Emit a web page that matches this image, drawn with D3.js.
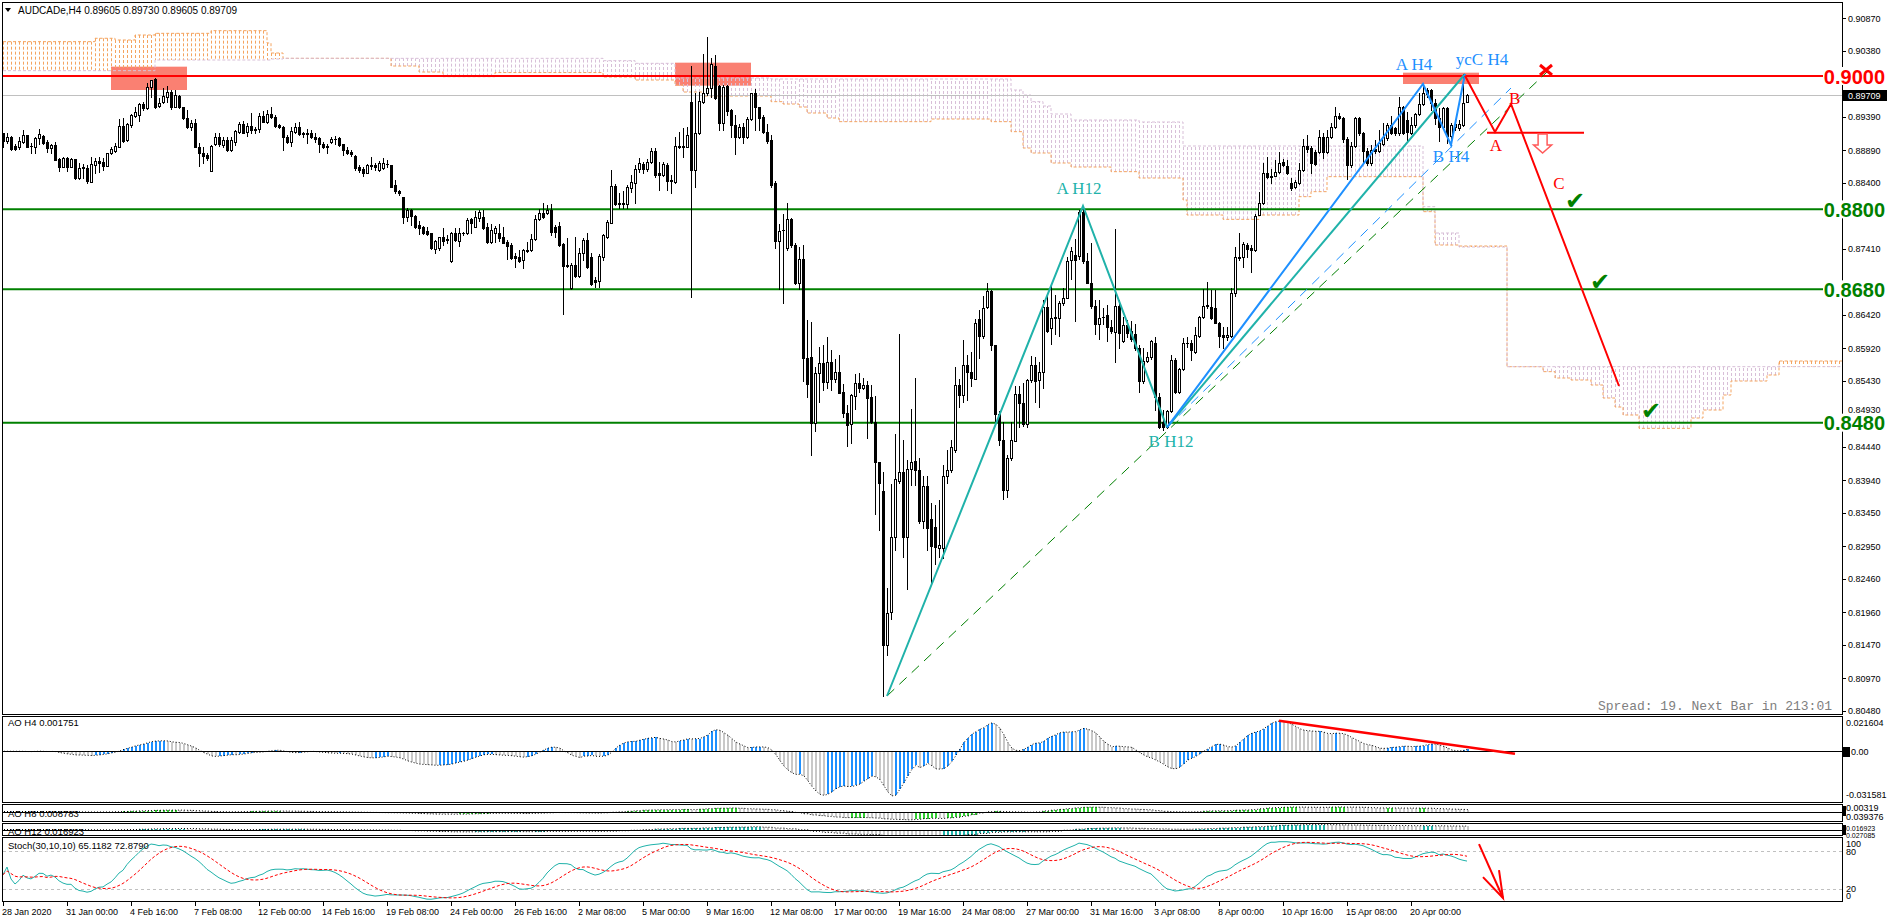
<!DOCTYPE html>
<html>
<head>
<meta charset="utf-8">
<script src="https://cdn.jsdelivr.net/npm/d3@7"></script>
<style>
body { margin: 0; background: #fff; }
svg { display: block; }
text { font-family: "Liberation Sans", Arial, sans-serif; }
</style>
</head>
<body>
<svg id="chart" width="1888" height="923"></svg>
<script>
// ---- AUDCAD H4 candles, prices in points (1 point = 0.00001) ----
const opens = [
89140,89030,89080,88950,88940,89015,89115,88950,88940,89065,
89100,89010,88925,88965,88755,88640,88765,88640,88750,88475,
88640,88615,88415,88665,88730,88705,88655,88840,88880,88940,
89250,89040,89265,89405,89415,89580,89515,89830,89950,89550,
89615,89690,89765,89540,89700,89530,89365,89240,89290,88940,
88850,88815,88580,88980,89080,88965,89040,88890,89015,89165,
89280,89165,89250,89205,89200,89400,89315,89430,89390,89260,
89240,89080,89015,89165,89230,89150,89150,89140,89080,89065,
88975,88945,89015,89055,89065,88975,88890,88865,88800,88630,
88600,88550,88655,88665,88590,88615,88680,88665,88365,88275,
88190,87890,87990,87900,87765,87740,87675,87640,87405,87415,
87580,87540,87230,87640,87530,87640,87650,87850,87740,87865,
87880,87740,87515,87650,87640,87590,87515,87465,87300,87290,
87240,87390,87390,87550,87850,87950,87940,87990,87740,87750,
87480,87165,86815,87165,87000,87350,87540,87290,86940,86930,
87290,87590,87800,88350,88090,88080,88080,88315,88400,88600,
88680,88600,88715,88880,88540,88515,88665,88440,88415,88950,
88950,88940,89615,88590,89140,89615,89750,89815,90150,89850,
89290,89850,89490,89265,89080,89230,89080,89350,89740,89530,
89380,89165,89040,88390,87520,87690,87416,87855,87468,86899,
87261,85772,85787,84790,85545,85700,85410,85710,85451,85565,
85255,84945,84779,85203,85390,85322,85358,85183,84805,84211,
83771,81470,81962,83084,83927,84066,83084,84107,84221,84097,
83332,83849,83358,83239,82923,82923,83994,84097,84392,85364,
85219,85658,85565,85462,86356,86098,86537,86770,85958,84934,
84547,83797,84273,84531,85234,85090,84779,85441,85658,85441,
85555,86537,86227,86372,86372,86589,86667,87235,87313,87302,
87959,87220,86899,86547,86279,86382,86408,86237,86165,86547,
86020,86268,86175,86124,85927,85426,85720,85787,86000,85180,
84815,84740,84980,85740,85265,85600,85990,86000,85865,86100,
86390,86550,86530,86515,86290,86115,86080,86100,86740,87290,
87280,87465,87415,87390,87915,88090,88540,88500,88500,88565,
88715,88650,88400,88340,88390,88590,88950,88915,88865,88865,
89080,88865,89080,89230,89400,89365,89050,88665,88950,89365,
89150,88880,88690,88900,88880,88980,89065,89265,89215,89140,
89540,89340,89150,89265,89430,89580,89790,89790,89600,89365,
89230,89515,89100,89240,89215,89265,89605
];
const highs = [
89150,89140,89100,88975,89080,89190,89115,88990,89080,89205,
89115,89040,88980,89010,88765,88780,88790,88765,88750,88690,
88675,88665,88780,88765,88780,88765,88840,88940,88990,89355,
89365,89300,89430,89530,89600,89615,89890,89940,89965,89665,
89815,89850,89790,89790,89715,89540,89490,89340,89350,88990,
88930,88840,88965,89140,89140,89080,89080,89090,89190,89315,
89330,89290,89450,89230,89440,89475,89490,89530,89415,89280,
89250,89115,89240,89290,89310,89165,89200,89190,89150,89090,
89015,88980,89080,89100,89080,88980,88930,88890,88815,88665,
88640,88675,88780,88690,88720,88765,88740,88665,88440,88290,
88190,88015,88000,87915,87830,87750,87740,87650,87540,87590,
87715,87615,87665,87715,87715,87660,87865,87865,87980,87990,
87990,87800,87780,87750,87780,87740,87540,87490,87340,87390,
87400,87515,87630,87915,88000,88100,88065,88080,87765,87815,
87490,87565,87190,87590,87415,87565,87650,87350,86990,87330,
87630,87840,88590,88380,88250,88280,88365,88515,88665,88765,
88715,88750,88915,88915,88715,88715,88690,88515,89080,89165,
89215,89240,90150,89740,89765,90330,90590,90265,90315,89865,
89865,89865,89500,89415,89280,89290,89380,89750,89800,89540,
89415,89280,89115,88420,87780,87933,88098,87871,87494,87442,
87468,86341,86305,85632,85942,85958,86082,85891,85762,85813,
85374,85064,85234,85529,85545,85477,85426,85358,85203,84211,
84056,82324,83875,84624,86124,84547,84237,85012,85477,84273,
84004,84004,83590,83564,83642,84159,84392,84547,85632,85462,
86046,85813,85865,86356,86496,86703,86889,86796,85968,84976,
84805,84314,84805,85348,85348,85400,85462,85803,85787,85710,
86641,86718,86858,86718,86630,86821,87287,87442,87561,87990,
88047,87338,87494,86640,86640,86527,86563,86341,87700,86640,
86382,86341,86330,86279,85968,85917,85865,86046,86090,85240,
84990,84990,85815,85765,85615,86065,86090,86040,86240,86400,
86800,86915,86790,86790,86315,86240,86240,86815,87440,87640,
87515,87500,87465,87930,88265,88690,88790,88600,88740,88865,
88750,88740,88465,88440,88690,89050,89115,88950,88890,89190,
89150,89190,89290,89540,89450,89380,89080,89015,89380,89380,
89165,88915,88965,89040,89190,89290,89290,89400,89240,89680,
89550,89465,89390,89450,89740,89880,89815,89800,89650,89515,
89540,89530,89290,89315,89340,90030,89730
];
const lows = [
88940,88990,88890,88890,88900,88990,88930,88850,88850,88980,
88980,88860,88850,88740,88580,88630,88580,88630,88450,88460,
88465,88400,88415,88540,88565,88590,88650,88830,88865,88930,
89015,89030,89240,89390,89330,89490,89500,89690,89515,89540,
89590,89615,89505,89530,89515,89350,89215,89190,88930,88655,
88690,88740,88580,88965,88950,88940,88880,88880,88965,89140,
89140,89100,89140,89140,89165,89310,89300,89365,89230,89215,
88890,89000,88955,89140,89115,89090,89000,89065,89015,88865,
88915,88850,88990,88975,88950,88815,88830,88800,88590,88565,
88500,88540,88600,88590,88580,88600,88640,88330,88250,88215,
87800,87830,87765,87715,87630,87630,87615,87400,87340,87390,
87465,87490,87215,87530,87450,87620,87630,87640,87730,87830,
87700,87500,87490,87515,87530,87490,87250,87250,87140,87215,
87115,87365,87380,87540,87840,87865,87930,87615,87590,87450,
86430,87140,86800,86990,86990,87240,87115,86865,86840,86840,
87240,87565,87790,88065,88015,88015,88015,88265,88100,88565,
88550,88580,88700,88490,88290,88500,88290,88250,88400,88915,
88790,88930,86690,88340,89130,89600,89715,89690,89650,89190,
89190,89415,89090,88830,89065,89000,89065,89340,89190,89190,
89150,88990,88340,87415,86806,86589,87390,87442,86873,86806,
85426,85183,84314,84676,85115,85296,85322,85296,85410,85245,
84883,84443,84495,85012,85255,85307,84573,84790,83435,83187,
80695,81315,81858,82892,83900,82789,82298,83859,83859,83290,
83218,82892,82401,82686,82789,82763,83900,84066,84366,85038,
85115,85142,85348,85451,85772,86072,86527,85891,84831,84469,
83652,83683,84237,84521,84728,84753,84738,85410,85115,85038,
85322,86165,85979,86124,86098,86563,86667,86951,86330,87261,
87199,86899,86527,86124,86062,86279,86020,86149,85710,85917,
86010,86082,86020,85891,85255,85400,85710,85762,84990,84715,
84690,84715,84965,85240,85240,85590,85940,85740,85840,86090,
86365,86515,86350,86290,85930,85915,86040,86090,86700,87240,
87140,87290,87065,87380,87915,88080,88465,88400,88500,88540,
88650,88530,88290,88315,88380,88580,88865,88540,88665,88850,
88765,88840,89065,89215,89350,89015,88450,88640,88930,89115,
88690,88665,88665,88850,88865,88965,89040,89130,89115,89115,
89130,89040,89130,89240,89415,89565,89690,89490,89280,89030,
89215,88990,88965,89190,89190,89250,89605
];
const closes = [
89030,89080,88905,88910,89030,89115,88940,88945,89070,89130,
89000,88915,88965,88740,88640,88765,88640,88755,88475,88615,
88615,88430,88675,88730,88700,88655,88840,88900,88950,89250,
89030,89280,89415,89465,89580,89525,89830,89935,89530,89590,
89700,89765,89530,89715,89530,89365,89240,89290,88940,88840,
88800,88765,88950,89080,88980,89040,88890,89040,89180,89280,
89150,89250,89190,89190,89400,89315,89430,89390,89250,89240,
89080,89015,89180,89230,89130,89130,89130,89080,89060,88975,
88940,88930,89055,89060,88965,88890,88850,88830,88625,88590,
88540,88665,88665,88640,88700,88690,88675,88340,88280,88240,
87890,87990,87900,87740,87725,87650,87630,87415,87530,87580,
87530,87550,87640,87540,87640,87650,87840,87790,87880,87965,
87715,87515,87690,87715,87565,87500,87450,87275,87265,87230,
87390,87380,87550,87850,87950,87880,87990,87665,87665,87465,
87150,87150,87165,87000,87350,87540,87130,86880,86915,87300,
87615,87815,88350,88080,88080,88100,88330,88415,88600,88700,
88600,88715,88880,88515,88515,88680,88430,88430,88950,88930,
88930,89115,88590,89140,89630,89750,89815,90180,89665,89290,
89840,89480,89265,89080,89230,89080,89350,89740,89530,89365,
89165,89030,88365,87520,87675,87685,87855,87468,86899,87261,
85772,85374,84790,85545,85700,85410,85710,85451,85565,85245,
84945,84769,85219,85400,85322,85358,85167,84805,84211,83900,
81470,81946,83084,83952,84066,83084,84107,84211,84097,83332,
83849,83218,82944,82928,82959,83994,84097,84428,85364,85219,
85658,85565,85477,86289,86098,86527,86770,85968,84934,84547,
83797,84273,84547,85234,85090,84779,85441,85658,85426,85555,
86537,86175,86372,86382,86589,86667,87220,87375,87235,87959,
87220,86899,86547,86279,86372,86392,86237,86175,86547,86149,
86268,86149,86062,85927,85426,85720,85787,86020,85190,84740,
84740,84980,85740,85265,85600,85990,86000,85890,86115,86390,
86550,86565,86365,86290,86100,86090,86115,86740,87290,87265,
87480,87400,87390,87900,88100,88540,88480,88480,88565,88700,
88665,88550,88315,88415,88590,88950,88900,88700,88680,89080,
88865,89080,89230,89400,89365,89050,88665,88950,89365,89150,
88880,88690,88890,88880,88990,89080,89265,89150,89140,89530,
89150,89165,89265,89430,89580,89740,89730,89600,89365,89230,
89515,89100,89265,89280,89280,89590,89709
];

// x axis labels, one every 16 bars
const timeLabels = ["28 Jan 2020","31 Jan 00:00","4 Feb 16:00","7 Feb 08:00","12 Feb 00:00","14 Feb 16:00",
  "19 Feb 08:00","24 Feb 00:00","26 Feb 16:00","2 Mar 08:00","5 Mar 00:00","9 Mar 16:00","12 Mar 08:00",
  "17 Mar 00:00","19 Mar 16:00","24 Mar 08:00","27 Mar 00:00","31 Mar 16:00","3 Apr 08:00","8 Apr 00:00",
  "10 Apr 16:00","15 Apr 08:00","20 Apr 00:00"];
// price scale labels (the ones under the big level tags are hidden there)
const priceTicks = [0.90870,0.90380,0.89390,0.88890,0.88400,0.87410,0.86420,0.85920,
  0.85430,0.84930,0.84440,0.83940,0.83450,0.82950,0.82460,0.81960,0.81470,0.80970,0.80480];

// horizontal levels
const levels = [0.9000, 0.8800, 0.8680, 0.8480];
const levelLabels = ["0.9000", "0.8800", "0.8680", "0.8480"];

// ichimoku cloud breakpoints (bar index, span A, span B)
const cloudBars = [0,23,28,33,38,52,66,67,70,97,104,110,123,150,158,168,170,175,192,195,199,201,206,209,232,247,252,
  255,257,260,262,267,277,284,295,296,305,314,324,327,331,355,358,364,376,385,388,392,397,400,403,405,409,422,425,430,432,441,444];
const spanA = [0.90515,0.90566,0.90540,0.90615,0.90640,0.90680,0.90495,0.90345,0.90265,0.90150,0.90060,0.89990,0.90052,
  0.89985,0.89940,0.89865,0.89760,0.89700,0.89615,0.89580,0.89535,0.89445,0.89370,0.89315,0.89355,0.89315,0.89165,0.88920,
  0.88845,0.88845,0.88695,0.88635,0.88565,0.88470,0.88140,0.87915,0.87850,0.87915,0.88190,0.88265,0.88490,0.87965,0.87465,
  0.87450,0.85640,0.85565,0.85470,0.85440,0.85365,0.85170,0.85035,0.84915,0.84715,0.84870,0.84990,0.85215,0.85425,0.85515,0.85725];
const spanB = [0.90080,0.90080,0.90080,0.90080,0.90240,0.90240,0.90240,0.90255,0.90265,0.90265,0.90265,0.90265,0.90265,
  0.90230,0.90190,0.89970,0.89970,0.89970,0.89955,0.89955,0.89955,0.89955,0.89955,0.89955,0.89955,0.89955,0.89790,0.89715,
  0.89615,0.89550,0.89430,0.89340,0.89340,0.89310,0.88950,0.88950,0.88950,0.88950,0.88950,0.88950,0.88950,0.88040,0.87645,
  0.87435,0.85640,0.85640,0.85640,0.85640,0.85640,0.85640,0.85640,0.85640,0.85640,0.85640,0.85640,0.85640,0.85640,0.85640,0.85640];

// resistance zones [bar from, bar to] and [price low, price high]
const zoneBars = [[27, 46], [168, 187], [350, 369]];
const zonePrices = [[0.89790, 0.90140], [0.89855, 0.90200], [0.89880, 0.90050]];

// wave drawings as [bar, price]
const waveH12 = [[221, 0.80700], [270, 0.88050], [291, 0.84730]];
const tealH4 = [[291, 0.84730], [365.5, 0.90030]];
const blueH4 = [[291, 0.84730], [355, 0.89880], [362, 0.88965], [365.5, 0.90030]];
const blueDash = [[291, 0.84730], [377, 0.89820]];
const greenDash = [[221, 0.80700], [386, 0.90060]];
const redPath = [[365.5, 0.90005], [373, 0.89160], [377, 0.89580], [404, 0.85350]];
const redLevelA = [[371, 0.89150], [395.25, 0.89150]];
const crossPoint = [385.75, 0.90090];
const arrowPoint = [384.9, 0.89130];
const checkBars = [393, 399.25, 412];
const checkPrices = [0.88140, 0.86925, 0.84990];

const waveLabels = ["A H12", "B H12", "A H4", "ycC H4", "B H4", "A", "B", "C"];
const waveLabelBars = [269, 292, 352.75, 369.75, 362, 373.25, 377.9, 389];
const waveLabelPrices = [0.88230, 0.84435, 0.90090, 0.90165, 0.88710, 0.88880, 0.89580, 0.88305];
const waveLabelColors = ["#20b2aa", "#20b2aa", "#1e90ff", "#1e90ff", "#1e90ff", "#ff0000", "#ff0000", "#ff0000"];

// indicator drawings
const aoTrend = [[319, 0.0198], [378, -0.0016]];
const stochArrow = [[369, 90.6], [375, 6.3]];
const stochArrowHead = [[370, 39], [375, 6.3], [374, 50]];

// ---- setup ----
const svg = d3.select("#chart");
const defs = svg.append("defs");
const N = closes.length;
const candles = opens.map((o, i) => ({ i, o: o / 1e5, h: highs[i] / 1e5, l: lows[i] / 1e5, c: closes[i] / 1e5 }));

const x = d3.scaleLinear().domain([0, 460]).range([3, 1843]);
const y = d3.scaleLinear().domain([0.80430, 0.91125]).range([714, 1]);
const yAo4 = d3.scaleLinear().domain([-0.031581, 0.021604]).range([800, 718]);
const yAo8 = d3.scaleLinear().domain([-0.045, 0.03]).range([822, 804.5]);
const yAo12 = d3.scaleLinear().domain([-0.03, 0.03]).range([835.5, 823.5]);
const yStoch = d3.scaleLinear().domain([0, 100]).range([902, 838.2]);

const panels = [
  { id: "clipMain", top: 2.5, bottom: 714.5 },
  { id: "clipAo4", top: 716.5, bottom: 802.5 },
  { id: "clipAo8", top: 804.5, bottom: 821.5 },
  { id: "clipAo12", top: 823.5, bottom: 835.5 },
  { id: "clipStoch", top: 837.5, bottom: 901.5 }
];
panels.forEach(p => {
  defs.append("clipPath").attr("id", p.id).append("rect")
    .attr("x", 3).attr("y", p.top + 0.5).attr("width", 1839).attr("height", p.bottom - p.top - 1);
});

// simple moving average over available bars
function sma(arr, n, i) {
  let s = 0, c = 0;
  for (let k = Math.max(0, i - n + 1); k <= i; k++) { s += arr[k]; c++; }
  return s / c;
}
function awesome(hi, lo) {
  const med = hi.map((h, i) => (h + lo[i]) / 2);
  return med.map((_, i) => sma(med, 5, i) - sma(med, 34, i));
}
// AO on a higher timeframe, spread back onto H4 bars
function awesomeMtf(keyOf) {
  const gh = [], gl = [], keys = [];
  candles.forEach(d => {
    const k = keyOf(d.i);
    keys.push(k);
    if (gh[k] === undefined) { gh[k] = d.h; gl[k] = d.l; }
    else { gh[k] = Math.max(gh[k], d.h); gl[k] = Math.min(gl[k], d.l); }
  });
  const ao = awesome(gh, gl);
  return keys.map(k => ({ v: ao[k], up: k > 0 && ao[k] > ao[k - 1] }));
}

const ao4 = awesome(candles.map(d => d.h), candles.map(d => d.l))
  .map((v, i, a) => ({ v, up: i > 0 && v > a[i - 1] }));
const ao8 = awesomeMtf(i => Math.floor(i / 2));
const ao12 = awesomeMtf(i => Math.floor((i + 2) / 3));

// stochastic 30,10,10
const stochK = [], stochD = [];
const num = [], den = [];
candles.forEach((d, i) => {
  const win = candles.slice(Math.max(0, i - 29), i + 1);
  const hh = d3.max(win, w => w.h), ll = d3.min(win, w => w.l);
  num.push(d.c - ll);
  den.push(hh - ll);
  const n = d3.sum(num.slice(Math.max(0, i - 9), i + 1));
  const m = d3.sum(den.slice(Math.max(0, i - 9), i + 1));
  stochK.push(m > 0 ? 100 * n / m : 50);
  stochD.push(sma(stochK, 10, i));
});

const line = (sx, sy) => d3.line().x(d => sx(d[0])).y(d => sy(d[1]));

// ---- main chart ----
const gMain = svg.append("g").attr("clip-path", "url(#clipMain)");

gMain.append("g").selectAll("rect").data(zoneBars).join("rect")
  .attr("x", d => x(d[0])).attr("width", d => x(d[1]) - x(d[0]))
  .attr("y", (d, k) => y(zonePrices[k][1]))
  .attr("height", (d, k) => y(zonePrices[k][0]) - y(zonePrices[k][1]))
  .attr("fill", "#fa8072");

// cloud
function stepAt(arr, bar) {
  let v = arr[0];
  cloudBars.forEach((b, k) => { if (b <= bar) v = arr[k]; });
  return v;
}
const cloudCols = d3.range(0, 460).map(b => ({ b, a: stepAt(spanA, b), s: stepAt(spanB, b) }));
gMain.append("g").selectAll("line").data(cloudCols).join("line")
  .attr("x1", d => x(d.b) + 0.5).attr("x2", d => x(d.b) + 0.5)
  .attr("y1", d => y(d.a)).attr("y2", d => y(d.s))
  .attr("stroke", d => d.a >= d.s ? "#f4a460" : "#d8bfd8")
  .attr("stroke-width", 1).attr("stroke-dasharray", "3,2");
const edge = arr => cloudBars.map((b, k) => [b, arr[k]]).concat([[460, arr[arr.length - 1]]]);
[[spanA, "#f4a460"], [spanB, "#d8bfd8"]].forEach(([arr, col]) => {
  gMain.append("path").attr("d", line(x, y).curve(d3.curveStepAfter)(edge(arr)))
    .attr("fill", "none").attr("stroke", col).attr("stroke-width", 1).attr("stroke-dasharray", "3,2");
});

// last price line
const last = candles[N - 1].c;
gMain.append("line").attr("x1", 3).attr("x2", 1842)
  .attr("y1", Math.round(y(last)) + 0.5).attr("y2", Math.round(y(last)) + 0.5)
  .attr("stroke", "#c0c0c0");

// level lines
gMain.append("g").selectAll("line").data(levels).join("line")
  .attr("x1", 3).attr("x2", 1842)
  .attr("y1", d => y(d)).attr("y2", d => y(d))
  .attr("stroke", (d, k) => k === 0 ? "#ff0000" : "#008000").attr("stroke-width", 2);

// candles
const gCandle = gMain.append("g").attr("shape-rendering", "crispEdges")
  .selectAll("g").data(candles).join("g");
gCandle.append("rect")
  .attr("x", d => Math.round(x(d.i))).attr("width", 1)
  .attr("y", d => Math.round(y(d.h)))
  .attr("height", d => Math.max(1, Math.round(y(d.l)) - Math.round(y(d.h)) + 1))
  .attr("fill", "#000");
gCandle.append("rect")
  .attr("x", d => Math.round(x(d.i)) - 1).attr("width", 3)
  .attr("y", d => Math.round(y(Math.max(d.o, d.c))))
  .attr("height", d => Math.max(1, Math.round(y(Math.min(d.o, d.c))) - Math.round(y(Math.max(d.o, d.c))) + 1))
  .attr("fill", "#000");
gCandle.filter(d => d.c > d.o).append("rect")
  .attr("x", d => Math.round(x(d.i))).attr("width", 1)
  .attr("y", d => Math.round(y(d.c)) + 1)
  .attr("height", d => Math.max(0, Math.round(y(d.o)) - Math.round(y(d.c)) - 1))
  .attr("fill", "#fff");

// wave lines
const drawPath = (pts, color, width, dash) => {
  const p = gMain.append("path").attr("d", line(x, y)(pts))
    .attr("fill", "none").attr("stroke", color).attr("stroke-width", width);
  if (dash) p.attr("stroke-dasharray", dash);
};
drawPath(greenDash, "#008000", 1, "10,7");
drawPath(blueDash, "#1e90ff", 1, "10,7");
drawPath(waveH12, "#20b2aa", 2);
drawPath(tealH4, "#20b2aa", 2);
drawPath(blueH4, "#1e90ff", 2);
drawPath(redPath, "#ff0000", 2);
drawPath(redLevelA, "#ff0000", 2);

// cross mark
const cx0 = x(crossPoint[0]), cy0 = y(crossPoint[1]);
gMain.append("path").attr("d", `M${cx0 - 6},${cy0 - 5}L${cx0 + 6},${cy0 + 5}M${cx0 + 6},${cy0 - 5}L${cx0 - 6},${cy0 + 5}`)
  .attr("stroke", "#ff0000").attr("stroke-width", 3);

// hollow down arrow
const ax = x(arrowPoint[0]), ay = y(arrowPoint[1]);
gMain.append("path")
  .attr("d", `M${ax - 4.5},${ay}L${ax + 4.5},${ay}L${ax + 4.5},${ay + 11}L${ax + 9},${ay + 11}L${ax},${ay + 19}L${ax - 9},${ay + 11}L${ax - 4.5},${ay + 11}Z`)
  .attr("fill", "#fff").attr("stroke", "#ff5a5a").attr("stroke-width", 1.5);

// check marks
gMain.append("g").selectAll("text").data(checkBars).join("text")
  .attr("x", d => x(d)).attr("y", (d, k) => y(checkPrices[k]) + 9)
  .attr("text-anchor", "middle")
  .style("font-family", "'DejaVu Sans'").style("font-size", "24px")
  .attr("fill", "#008000").text("\u2714");

// wave labels
gMain.append("g").selectAll("text").data(waveLabels).join("text")
  .attr("x", (d, k) => x(waveLabelBars[k])).attr("y", (d, k) => y(waveLabelPrices[k]))
  .attr("text-anchor", "middle")
  .style("font-family", "'Liberation Serif', 'Times New Roman', serif").style("font-size", "17px")
  .attr("fill", (d, k) => waveLabelColors[k]).text(d => d);

// header + spread
svg.append("path").attr("d", "M5,8L11,8L8,12Z").attr("fill", "#000");
svg.append("text").attr("x", 18).attr("y", 14).style("font-size", "10px")
  .text("AUDCADe,H4  0.89605 0.89730 0.89605 0.89709");
svg.append("text").attr("x", 1832).attr("y", 710).attr("text-anchor", "end")
  .style("font-family", "'Liberation Mono', 'Courier New', monospace").style("font-size", "13px")
  .attr("fill", "#808080").text("Spread: 19. Next Bar in 213:01");

// ---- AO panels ----
function drawAo(series, sy, clipId, upColor) {
  const g = svg.append("g").attr("clip-path", `url(#${clipId})`);
  g.append("g").attr("shape-rendering", "crispEdges").selectAll("rect").data(series).join("rect")
    .attr("x", (d, i) => x(i)).attr("width", 2)
    .attr("y", d => Math.min(sy(0), sy(d.v)))
    .attr("height", d => Math.abs(sy(d.v) - sy(0)))
    .attr("fill", d => d.up ? upColor : "#c8c8c8");
  g.append("path").attr("d", d3.line().x((d, i) => x(i) + 1).y(d => sy(d.v))(series))
    .attr("fill", "none").attr("stroke", "#000").attr("stroke-width", 1).attr("stroke-dasharray", "1,2");
  g.append("line").attr("x1", 3).attr("x2", 1842)
    .attr("y1", Math.round(sy(0)) + 0.5).attr("y2", Math.round(sy(0)) + 0.5).attr("stroke", "#000");
  return g;
}
const gAo4 = drawAo(ao4, yAo4, "clipAo4", "#1e90ff");
gAo4.append("path").attr("d", line(x, yAo4)(aoTrend))
  .attr("fill", "none").attr("stroke", "#ff0000").attr("stroke-width", 2.5);
drawAo(ao8, yAo8, "clipAo8", "#32cd32");
drawAo(ao12, yAo12, "clipAo12", "#20b2aa");

// ---- stochastic ----
const gSt = svg.append("g").attr("clip-path", "url(#clipStoch)");
[80, 20].forEach(v => {
  gSt.append("line").attr("x1", 3).attr("x2", 1842)
    .attr("y1", Math.round(yStoch(v)) + 0.5).attr("y2", Math.round(yStoch(v)) + 0.5)
    .attr("stroke", "#c0c0c0").attr("stroke-dasharray", "3,3");
});
gSt.append("path").attr("d", d3.line().x((d, i) => x(i)).y(d => yStoch(d))(stochK))
  .attr("fill", "none").attr("stroke", "#20b2aa").attr("stroke-width", 1);
gSt.append("path").attr("d", d3.line().x((d, i) => x(i)).y(d => yStoch(d))(stochD))
  .attr("fill", "none").attr("stroke", "#ff0000").attr("stroke-width", 1).attr("stroke-dasharray", "3,2");
gSt.append("path").attr("d", line(x, yStoch)(stochArrow))
  .attr("fill", "none").attr("stroke", "#ff0000").attr("stroke-width", 2);
gSt.append("path").attr("d", line(x, yStoch)(stochArrowHead))
  .attr("fill", "none").attr("stroke", "#ff0000").attr("stroke-width", 2);

// ---- frames ----
const gFrame = svg.append("g").attr("shape-rendering", "crispEdges");
panels.forEach(p => {
  gFrame.append("rect").attr("x", 2.5).attr("y", p.top).attr("width", 1840).attr("height", p.bottom - p.top)
    .attr("fill", "none").attr("stroke", "#000");
});

// panel titles
const titles = [["AO H4   0.001751", 726], ["AO H8   0.008783", 817], ["AO H12   0.016923", 835], ["Stoch(30,10,10) 65.1182 72.8790", 849]];
titles.forEach(([t, ty]) => {
  svg.append("text").attr("x", 8).attr("y", ty).style("font-size", "9.5px").text(t);
});

// ---- right price axis ----
const gAxis = svg.append("g");
gAxis.append("g").attr("shape-rendering", "crispEdges").selectAll("line").data(priceTicks).join("line")
  .attr("x1", 1842).attr("x2", 1846)
  .attr("y1", d => Math.round(y(d)) + 0.5).attr("y2", d => Math.round(y(d)) + 0.5).attr("stroke", "#000");
// the tick just above the 0.8480 tag sits a little higher so the tag does not cover it
gAxis.append("g").selectAll("text").data(priceTicks).join("text")
  .attr("x", 1848).attr("y", d => y(d) + (d === 0.84930 ? -1.5 : 3.5)).style("font-size", "9px")
  .text(d => d.toFixed(5));

// current price box
gAxis.append("rect").attr("x", 1843).attr("y", Math.round(y(last)) - 5).attr("width", 44).attr("height", 11).attr("fill", "#000");
gAxis.append("text").attr("x", 1848).attr("y", y(last) + 3.5).style("font-size", "9px").attr("fill", "#fff")
  .text(last.toFixed(5));

// big level labels
const gLev = gAxis.append("g").selectAll("g").data(levels).join("g");
gLev.append("rect").attr("x", 1823).attr("y", d => y(d) - 9).attr("width", 65).attr("height", 18).attr("fill", "#fff");
gLev.append("text").attr("x", 1885).attr("y", d => y(d) + 7.5).attr("text-anchor", "end")
  .style("font-size", "20px").style("font-weight", "bold")
  .attr("fill", (d, k) => k === 0 ? "#ff0000" : "#008000")
  .text((d, k) => levelLabels[k]);

// indicator axis labels
const indLabels = [
  ["0.021604", 726], ["-0.031581", 798], ["0.00319", 811], ["0.039376", 820], ["0.016923", 830.5], ["0.027085", 837.5],
  ["100", 847], ["80", 855], ["20", 892], ["0", 899]
];
indLabels.forEach(([t, ty]) => {
  gAxis.append("text").attr("x", 1846).attr("y", ty).style("font-size", ty > 829 && ty < 840 ? "7px" : "9px").text(t);
});
gAxis.append("rect").attr("x", 1843).attr("y", 747).attr("width", 7).attr("height", 10).attr("fill", "#000");
gAxis.append("text").attr("x", 1851).attr("y", 755).style("font-size", "9px").text("0.00");
gAxis.append("rect").attr("x", 1843).attr("y", 806).attr("width", 3).attr("height", 10).attr("fill", "#000");
gAxis.append("rect").attr("x", 1843).attr("y", 825).attr("width", 3).attr("height", 10).attr("fill", "#000");

// ---- time axis ----
const tickBars = timeLabels.map((t, k) => k * 16);
gAxis.append("g").attr("shape-rendering", "crispEdges").selectAll("line").data(tickBars).join("line")
  .attr("x1", d => x(d) + 0.5).attr("x2", d => x(d) + 0.5).attr("y1", 902).attr("y2", 906).attr("stroke", "#000");
gAxis.append("g").selectAll("text").data(timeLabels).join("text")
  .attr("x", (d, k) => x(tickBars[k]) - 1).attr("y", 915).style("font-size", "9px").text(d => d);
</script>
</body>
</html>
